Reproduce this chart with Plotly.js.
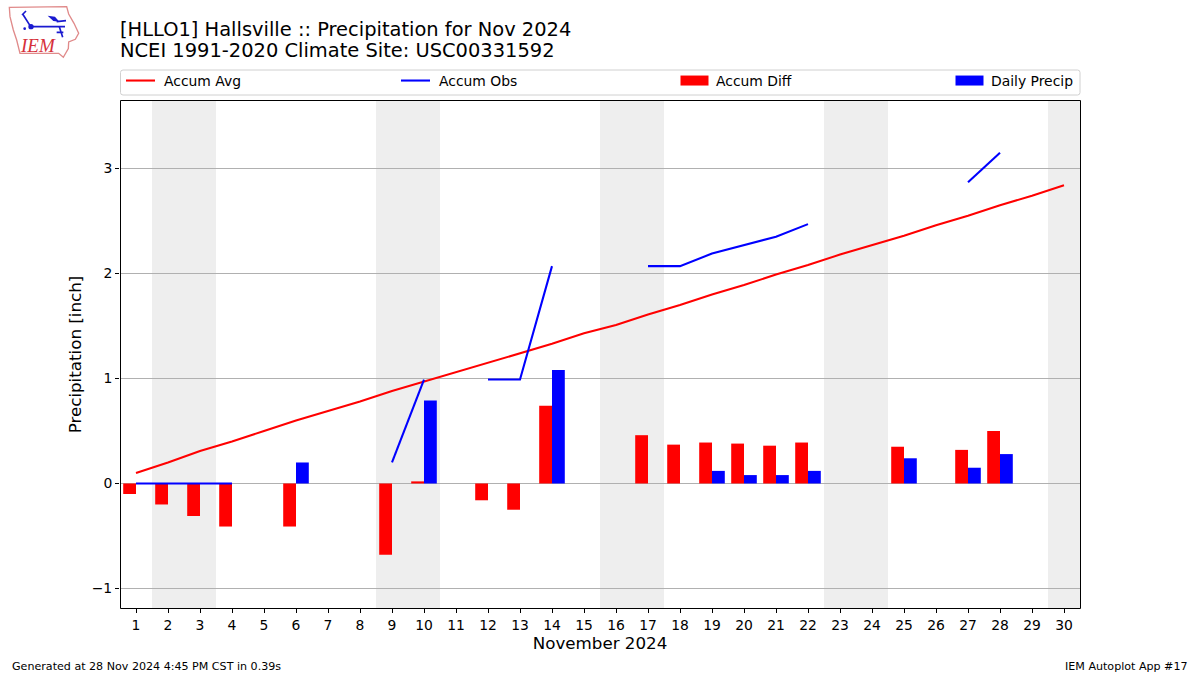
<!DOCTYPE html>
<html><head><meta charset="utf-8"><script src="https://cdn.plot.ly/plotly-3.0.1.min.js"></script>
<style>html,body{margin:0;padding:0;background:#fff}#c{width:1200px;height:675px}</style></head>
<body><div id="c"></div><script>
const days=[1,2,3,4,5,6,7,8,9,10,11,12,13,14,15,16,17,18,19,20,21,22,23,24,25,26,27,28,29,30];
const accumAvg=[0.10,0.20,0.31,0.40,0.50,0.60,0.69,0.78,0.88,0.97,1.06,1.15,1.24,1.33,1.43,1.51,1.61,1.70,1.80,1.89,1.99,2.08,2.18,2.27,2.36,2.46,2.55,2.65,2.74,2.84];
const accumObs=[0,0,0,0,null,null,null,null,0.20,0.99,null,0.99,0.99,2.07,null,null,2.07,2.07,2.19,2.27,2.35,2.47,null,null,null,null,2.87,3.15,null,null];
const accumDiff=[-0.10,-0.20,-0.31,-0.41,null,-0.41,null,null,-0.68,0.02,null,-0.16,-0.25,0.74,null,null,0.46,0.37,0.39,0.38,0.36,0.39,null,null,0.35,null,0.32,0.50,null,null];
const dailyPrecip=[null,null,null,null,null,0.20,null,null,null,0.79,null,null,null,1.08,null,null,null,null,0.12,0.08,0.08,0.12,null,null,0.24,null,0.15,0.28,null,null];
const weekends=[[1.5,3.5],[8.5,10.5],[15.5,17.5],[22.5,24.5],[29.5,30.5]];
const titleLine1="[HLLO1] Hallsville :: Precipitation for Nov 2024";
const titleLine2="NCEI 1991-2020 Climate Site: USC00331592";
const footerLeft="Generated at 28 Nov 2024 4:45 PM CST in 0.39s";
const footerRight="IEM Autoplot App #17";
const F="DejaVu Sans";
const W=1200,H=675,L=120,R=1080,T=101,B=608;
const px=x=>(x-L)/(R-L), py=y=>(B-y)/(B-T);
const logo=`<svg xmlns="http://www.w3.org/2000/svg" viewBox="0 0 300 180" width="300" height="180">
<path d="M28 22 L200 20 L206 42 L222 70 L236 100 L226 118 L206 126 L205 146 L190 172 L176 160 L60 160 L50 120 L40 90 L30 50 Z" fill="none" stroke="#e08a8a" stroke-width="4"/>
<g stroke="#1a1ad0" fill="none" stroke-width="5"><path d="M92 80 L195 80"/><path d="M92 80 L68 42 M66 45 L78 33"/><path d="M170 65 L198 62 M178 80 L188 112 M170 97 L190 97"/></g>
<circle cx="93" cy="80" r="8" fill="#1a1ad0"/><path d="M143 47 L165 50 L178 65 L160 63 Z" fill="#1a1ad0"/><circle cx="74" cy="86" r="4" fill="#1a1ad0"/></svg>`;
const traces=[
{x:days,y:accumAvg,type:"scatter",mode:"lines",name:"Accum Avg",line:{color:"#ff0000",width:2.08},legendwidth:227},
{x:days,y:accumObs,type:"scatter",mode:"lines",name:"Accum Obs",line:{color:"#0000ff",width:2.08},connectgaps:false,legendwidth:229},
{x:days,y:accumDiff,type:"bar",name:"Accum Diff",marker:{color:"#ff0000",line:{width:0}},legendwidth:227},
{x:days,y:dailyPrecip,type:"bar",name:"Daily Precip",marker:{color:"#0000ff",line:{width:0}},legendwidth:80}
];
const axisCommon={showline:false,ticks:"outside",ticklen:4,tickwidth:1,tickcolor:"#000",tickfont:{family:F,size:13.9,color:"#000"}};
const layout={
width:W,height:H,paper_bgcolor:"#fff",plot_bgcolor:"#fff",font:{family:F,color:"#000"},
margin:{l:L,r:W-R,t:T,b:H-B,pad:0},
barmode:"group",bargap:0.2,bargroupgap:0,
title:{text:titleLine1,font:{family:F,size:19.45,color:"#000"},x:120/W,xanchor:"left",xref:"container",y:1-29/H,yanchor:"middle"},
xaxis:Object.assign({},axisCommon,{range:[0.5,30.5],tickmode:"array",tickvals:days,ticktext:days.map(String),showgrid:false,zeroline:false,
 title:{text:"November 2024",font:{family:F,size:16.7,color:"#000"},standoff:5}}),
yaxis:Object.assign({},axisCommon,{range:[-1.186,3.643],tickmode:"array",tickvals:[-1,0,1,2,3],showgrid:true,gridcolor:"#b0b0b0",gridwidth:1,zeroline:true,zerolinecolor:"#b0b0b0",zerolinewidth:1,
 title:{text:"Precipitation [inch]",font:{family:F,size:16.7,color:"#000"},standoff:5}}),
legend:{orientation:"h",x:px(121),y:py(65),xanchor:"left",yanchor:"top",itemwidth:33,bgcolor:"rgba(255,255,255,0)",borderwidth:0,font:{family:F,size:13.9,color:"#000"},traceorder:"normal",itemclick:false},
shapes:weekends.map(w=>({type:"rect",xref:"x",yref:"paper",x0:w[0],x1:w[1],y0:0,y1:1,fillcolor:"#eeeeee",line:{width:0},layer:"below"})).concat([
{type:"rect",xref:"paper",yref:"paper",layer:"above",x0:px(120.5),x1:px(1080.5),y0:py(608.5),y1:py(100.5),line:{color:"#000",width:1},fillcolor:"rgba(0,0,0,0)"},
{type:"path",xref:"paper",yref:"paper",layer:"below",line:{color:"#d0d0d0",width:1},fillcolor:"rgba(0,0,0,0)",
 path:`M ${px(123)} ${py(70)} L ${px(1077.5)} ${py(70)} Q ${px(1080)} ${py(70)} ${px(1080)} ${py(72.5)} L ${px(1080)} ${py(92.5)} Q ${px(1080)} ${py(95)} ${px(1077.5)} ${py(95)} L ${px(123)} ${py(95)} Q ${px(120.5)} ${py(95)} ${px(120.5)} ${py(92.5)} L ${px(120.5)} ${py(72.5)} Q ${px(120.5)} ${py(70)} ${px(123)} ${py(70)} Z`}
]),
images:[{source:"data:image/svg+xml;base64,"+btoa(logo),xref:"paper",yref:"paper",x:px(0),y:py(0),sizex:100/(R-L),sizey:60/(B-T),xanchor:"left",yanchor:"top",sizing:"stretch",layer:"above"}],
annotations:[
{text:titleLine2,xref:"paper",yref:"paper",x:px(118.5),y:py(50.5),xanchor:"left",yanchor:"middle",showarrow:false,font:{family:F,size:19.45,color:"#000"},borderpad:0},
{text:footerLeft,xref:"paper",yref:"paper",x:px(11),y:py(666),xanchor:"left",yanchor:"middle",showarrow:false,font:{family:F,size:11.1,color:"#000"},borderpad:0},
{text:footerRight,xref:"paper",yref:"paper",x:px(1189),y:py(666),xanchor:"right",yanchor:"middle",showarrow:false,font:{family:F,size:11.1,color:"#000"},borderpad:0},
{text:"<i>IEM</i>",xref:"paper",yref:"paper",x:px(19),y:py(46),xanchor:"left",yanchor:"middle",showarrow:false,font:{family:"Liberation Serif",size:19,color:"#d6303a"},borderpad:0}
]};
Plotly.newPlot("c",traces,layout,{displayModeBar:false,responsive:false}).then(gd=>{
  gd.querySelectorAll(".legend .legendpoints path").forEach(p=>{p.setAttribute("d","M14,5H-14V-5H14Z");p.style.strokeWidth="0";});
  gd.querySelectorAll(".legend path.js-line").forEach(p=>p.setAttribute("d","M5,0h29"));
});
</script></body></html>
